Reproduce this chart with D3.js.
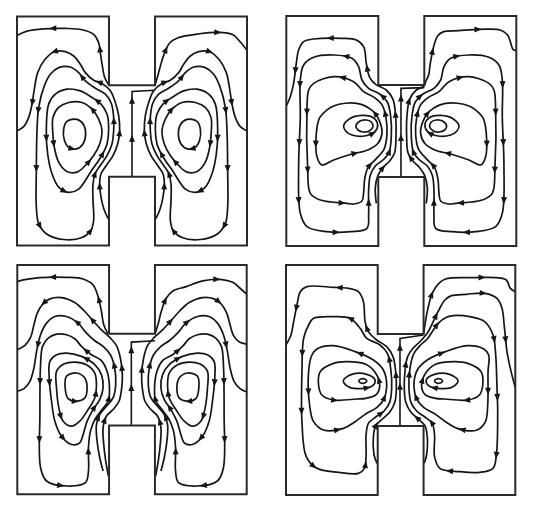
<!DOCTYPE html>
<html><head><meta charset="utf-8">
<script src="https://cdn.jsdelivr.net/npm/d3@7"></script>
<style>html,body{margin:0;padding:0;background:#fff}svg{display:block}</style>
</head><body>
<svg id="c" width="534" height="511"></svg>
<script>
// Grid units: each H-cavity spans 0..690 in x and y
const GRID = [0, 690];
const hOutline = [[0,0],[276,0],[276,207],[414,207],[414,0],[690,0],[690,690],[414,690],[414,483],[276,483],[276,690],[0,690]];

// ---------- Panel 1 (top left) ----------
const p1Divider = [[345,483],[345,226],[414,222]];
const p1LeftLines = [
  [[0,57],[30,44],[80,37],[145,36],[195,40],[230,54],[245,79],[250,109],[256,149],[263,184],[275,206]],
  [[0,345],[20,332],[35,304],[45,264],[52,219],[62,169],[82,132],[112,106],[145,106],[170,119],[190,144],[205,169],[230,192],[255,202],[280,224],[295,259],[305,299],[308,344],[302,384],[288,419],[268,449],[252,474],[248,504],[252,544],[262,584],[274,610]]
];
const p1LeftLoops = [
  [[82,209],[100,174],[125,154],[160,152],[185,169],[205,194],[235,216],[265,234],[283,262],[290,304],[290,344],[285,384],[270,419],[252,446],[235,472],[228,504],[228,554],[230,614],[222,644],[195,666],[140,672],[90,656],[65,624],[58,574],[58,464],[60,344],[65,274]],
  [[95,264],[115,234],[150,219],[190,224],[225,244],[252,264],[270,294],[275,339],[270,384],[262,404],[245,434],[225,462],[205,494],[185,520],[155,530],[125,514],[105,474],[92,414],[88,344]],
  [[108,304],[125,274],[155,259],[195,259],[225,279],[245,309],[255,344],[248,384],[230,419],[205,449],[180,469],[148,466],[125,439],[112,394],[107,344]],
  [[150,316],[180,310],[200,326],[206,354],[198,384],[178,399],[155,394],[142,372],[140,339]]
];
const p1RightLines = [
  [[414,207],[422,180],[430,150],[440,117],[458,80],[483,64],[548,52],[603,48],[648,55],[670,77],[690,102]],
  [[690,345],[670,332],[655,304],[645,264],[638,219],[628,169],[608,132],[578,106],[545,106],[520,119],[500,144],[485,169],[460,192],[435,202],[410,224],[395,259],[385,299],[382,344],[388,384],[402,419],[422,449],[438,474],[442,504],[438,544],[428,584],[416,610]]
];
const p1RightLoops = [
  [[608,209],[590,174],[565,154],[530,152],[505,169],[485,194],[455,216],[425,234],[407,262],[400,304],[400,344],[405,384],[420,419],[438,446],[455,472],[462,504],[462,554],[460,614],[468,644],[495,666],[550,672],[600,656],[625,624],[632,574],[632,464],[630,344],[625,274]],
  [[595,264],[575,234],[540,219],[500,224],[465,244],[438,264],[420,294],[415,339],[420,384],[428,404],[445,434],[465,462],[485,494],[505,520],[535,530],[565,514],[585,474],[598,414],[602,344]],
  [[582,304],[565,274],[535,259],[495,259],[465,279],[445,309],[435,344],[442,384],[460,419],[485,449],[510,469],[542,466],[565,439],[578,394],[583,344]],
  [[540,316],[510,310],[490,326],[484,354],[492,384],[512,399],[535,394],[548,372],[550,339]]
];

// ---------- Panel 2 (top right) ----------
const p2Divider = [[344,484],[344,217],[414,215]];
const p2LeftLines = [
  [[0,270],[12,242],[22,202],[30,142],[37,102],[52,77],[82,69],[167,67],[210,72],[232,92],[240,142],[250,184],[268,205],[300,222],[320,250],[328,300],[329,360],[325,410],[310,435],[290,455],[275,478],[267,515],[270,562]]
];
const p2LeftLoops = [
  [[52,147],[82,124],[142,117],[197,127],[217,152],[227,192],[247,217],[280,234],[303,258],[313,300],[315,360],[308,410],[290,432],[267,450],[252,478],[247,522],[247,592],[242,637],[192,647],[122,647],[62,632],[42,592],[37,452],[42,302],[42,192]],
  [[67,222],[82,202],[142,182],[202,197],[232,227],[265,245],[288,268],[299,305],[302,355],[293,400],[268,430],[245,455],[235,490],[232,530],[227,555],[202,564],[182,562],[102,552],[72,532],[64,452],[62,282]],
  [[102,302],[142,270],[212,262],[258,284],[280,316],[287,352],[275,382],[245,402],[197,414],[142,432],[107,447],[92,422],[90,352],[97,312]],
  [[172,330],[190,308],[227,298],[258,303],[274,325],[266,347],[235,360],[197,357],[178,345]],
  [[209,330],[220,316],[240,312],[255,318],[260,332],[250,344],[232,348],[215,342]]
];
const p2RightLines = [
  [[420,562],[423,515],[415,478],[400,455],[380,435],[365,410],[361,360],[362,300],[370,250],[390,222],[412,211],[419,195],[427,177],[432,142],[442,92],[454,60],[472,47],[517,44],[582,40],[642,42],[664,57],[672,77],[680,100],[690,104]]
];
const p2RightLoops = [
  [[638,147],[608,124],[548,117],[493,127],[473,152],[463,192],[443,217],[410,234],[387,258],[377,300],[375,360],[382,410],[400,432],[423,450],[438,478],[443,522],[443,592],[448,637],[498,647],[568,647],[628,632],[648,592],[653,452],[648,302],[648,192]],
  [[623,222],[608,202],[548,182],[488,197],[458,227],[425,245],[402,268],[391,305],[388,355],[397,400],[422,430],[445,455],[455,490],[458,530],[463,555],[488,564],[508,562],[588,552],[618,532],[626,452],[628,282]],
  [[588,302],[548,270],[478,262],[432,284],[410,316],[403,352],[415,382],[445,402],[493,414],[548,432],[583,447],[598,422],[600,352],[593,312]],
  [[518,330],[500,308],[463,298],[432,303],[416,325],[424,347],[455,360],[493,357],[512,345]],
  [[481,330],[470,316],[450,312],[435,318],[430,332],[440,344],[458,348],[475,342]]
];

// ---------- Panel 3 (bottom left) ----------
const p3Divider = [[343,483],[343,232],[414,228]];
const p3LeftLines = [
  [[0,50],[18,45],[68,38],[148,37],[198,42],[228,60],[243,95],[253,140],[260,180],[273,208]],
  [[0,255],[23,242],[40,218],[50,180],[60,145],[76,118],[98,102],[133,98],[173,113],[203,140],[228,168],[253,195],[278,218],[298,242],[310,280],[316,330],[314,370],[306,410],[288,435],[268,455],[258,490],[260,540],[266,590],[274,635]],
  [[0,380],[20,372],[38,350],[50,310],[58,260],[70,210],[88,175],[113,155],[148,155],[183,175],[208,205],[233,228],[258,245],[280,270],[293,310],[296,360],[288,400],[268,425],[248,450],[238,480],[240,530],[248,580],[258,620]]
];
const p3LeftLoops = [
  [[76,245],[93,220],[118,208],[148,210],[173,222],[193,245],[223,270],[253,288],[270,320],[277,365],[274,408],[255,435],[235,462],[220,500],[214,550],[214,620],[205,655],[150,665],[88,650],[70,610],[68,450],[70,300]],
  [[98,290],[118,270],[148,265],[193,275],[233,300],[253,330],[258,370],[248,405],[228,435],[210,470],[198,510],[188,535],[163,540],[133,515],[113,470],[103,410],[96,340]],
  [[118,320],[140,298],[173,292],[208,300],[233,325],[238,365],[233,400],[213,435],[188,470],[163,485],[138,470],[125,430],[118,370]],
  [[148,335],[178,325],[203,340],[210,370],[203,400],[178,410],[153,402],[144,370]]
];
const p3RightLines = [
  [[414,208],[423,180],[433,140],[448,100],[468,78],[508,65],[558,48],[603,43],[648,52],[670,70],[690,88]],
  [[690,238],[668,232],[650,212],[640,180],[630,145],[614,118],[592,102],[557,98],[517,113],[487,140],[462,168],[437,195],[412,218],[392,242],[380,280],[374,330],[376,370],[384,410],[402,435],[422,455],[432,490],[430,540],[424,590],[416,635]],
  [[690,382],[670,372],[652,350],[640,310],[632,260],[620,210],[602,175],[577,155],[542,155],[507,175],[482,205],[457,228],[432,245],[410,270],[397,310],[394,360],[402,400],[422,425],[442,450],[452,480],[450,530],[442,580],[432,620]]
];
const p3RightLoops = [
  [[614,245],[597,220],[572,208],[542,210],[517,222],[497,245],[467,270],[437,288],[420,320],[413,365],[416,408],[435,435],[455,462],[470,500],[476,550],[476,620],[485,655],[540,665],[602,650],[620,610],[622,450],[620,300]],
  [[592,290],[572,270],[542,265],[497,275],[457,300],[437,330],[432,370],[442,405],[462,435],[480,470],[492,510],[502,535],[527,540],[557,515],[577,470],[587,410],[594,340]],
  [[572,320],[550,298],[517,292],[482,300],[457,325],[452,365],[457,400],[477,435],[502,470],[527,485],[552,470],[565,430],[572,370]],
  [[542,335],[512,325],[487,340],[480,370],[487,400],[512,410],[537,402],[546,370]]
];

// ---------- Panel 4 (bottom right) ----------
const p4Divider = [[343,483],[343,220],[414,210]];
const p4LeftLines = [
  [[0,240],[15,210],[23,170],[33,120],[43,80],[63,65],[143,67],[188,70],[218,80],[233,110],[238,170],[248,200],[273,225],[303,245],[322,275],[330,320],[332,370],[328,410],[313,440],[290,462],[270,482],[263,515],[265,570],[274,595]]
];
const p4LeftLoops = [
  [[68,180],[83,160],[143,155],[193,160],[223,190],[243,220],[283,240],[305,265],[315,310],[318,370],[312,412],[295,438],[270,456],[248,475],[241,510],[241,570],[236,610],[218,625],[158,622],[93,610],[61,575],[48,470],[48,320],[53,220]],
  [[78,270],[93,252],[143,242],[208,260],[263,285],[293,315],[303,365],[293,405],[273,428],[243,445],[208,470],[173,490],[113,495],[83,470],[71,420],[68,320]],
  [[103,320],[143,295],[183,290],[240,298],[270,325],[282,362],[272,388],[240,400],[213,402],[143,405],[108,390],[98,360]],
  [[173,345],[198,328],[243,328],[268,345],[261,362],[233,370],[193,368],[175,355]],
  [[219,348],[225,342],[237,342],[243,348],[237,354],[225,354]]
];
const p4RightLines = [
  [[414,208],[418,180],[425,140],[440,85],[460,55],[480,42],[553,38],[633,38],[663,45],[675,70],[690,80]],
  [[690,368],[675,310],[665,260],[657,185],[650,130],[635,100],[598,85],[543,88],[498,92],[478,105],[460,135],[443,170],[428,200],[405,228],[382,250],[366,275],[358,320],[356,370],[360,410],[375,440],[398,462],[418,482],[425,515],[423,570],[416,595]]
];
const p4RightLoops = [
  [[503,152],[553,155],[598,170],[623,210],[631,270],[635,370],[637,440],[633,570],[623,610],[583,622],[523,620],[463,610],[447,575],[447,510],[440,475],[418,456],[393,438],[376,412],[370,370],[373,310],[385,265],[405,240],[425,222],[440,200],[458,175],[480,158]],
  [[610,270],[595,252],[545,242],[480,260],[425,285],[395,315],[385,365],[395,405],[415,428],[445,445],[480,470],[515,490],[575,495],[600,470],[607,420],[608,320]],
  [[587,320],[547,295],[507,290],[450,298],[420,325],[408,362],[418,388],[450,400],[477,402],[547,405],[582,390],[592,360]],
  [[517,345],[492,328],[447,328],[422,345],[429,362],[457,370],[497,368],[515,355]],
  [[447,348],[453,342],[465,342],[471,348],[465,354],[453,354]]
];

// ---------- layout ----------
const panels = [
  {box:[17,16.5,247,245.5], divider:p1Divider, L:{lines:p1LeftLines, loops:p1LeftLoops}, R:{lines:p1RightLines, loops:p1RightLoops}},
  {box:[286.3,16,516.3,246], divider:p2Divider, L:{lines:p2LeftLines, loops:p2LeftLoops}, R:{lines:p2RightLines, loops:p2RightLoops}},
  {box:[17.3,265,246.7,494.3], divider:p3Divider, L:{lines:p3LeftLines, loops:p3LeftLoops}, R:{lines:p3RightLines, loops:p3RightLoops}},
  {box:[286,265,515.3,495], divider:p4Divider, L:{lines:p4LeftLines, loops:p4LeftLoops}, R:{lines:p4RightLines, loops:p4RightLoops}}
];

const INK = '#161616';
const svg = d3.select('#c');
svg.append('rect').attr('width',534).attr('height',511).attr('fill','#fff');

function addArrows(g, node, center, side, spacing, minLen) {
  const len = node.getTotalLength();
  if (len < minLen) return;
  const n = Math.max(1, Math.floor(len / spacing));
  const start = (len - (n - 1) * spacing) / 2;
  for (let i = 0; i < n; i++) {
    const l = start + i * spacing;
    const p = node.getPointAtLength(l);
    const a = node.getPointAtLength(Math.max(0, l - 1.5));
    const b = node.getPointAtLength(Math.min(len, l + 1.5));
    let tx = b.x - a.x, ty = b.y - a.y;
    if (center) {
      const rx = p.x - center[0], ry = p.y - center[1];
      const dx = side === 'L' ? ry : -ry, dy = side === 'L' ? -rx : rx;
      if (tx * dx + ty * dy < 0) { tx = -tx; ty = -ty; }
    }
    const ang = Math.atan2(ty, tx) * 180 / Math.PI;
    g.append('path').attr('d', 'M4,0L-3.2,-3L-3.2,3Z')
      .attr('transform', `translate(${p.x.toFixed(2)},${p.y.toFixed(2)}) rotate(${ang.toFixed(1)})`)
      .attr('fill', INK);
  }
}

panels.forEach(p => {
  const x = d3.scaleLinear().domain(GRID).range([p.box[0], p.box[2]]);
  const y = d3.scaleLinear().domain(GRID).range([p.box[1], p.box[3]]);
  const g = svg.append('g');
  const open = d3.line().x(d => x(d[0])).y(d => y(d[1])).curve(d3.curveCatmullRom.alpha(0.5));
  const closed = d3.line().x(d => x(d[0])).y(d => y(d[1])).curve(d3.curveCatmullRomClosed.alpha(0.5));
  const straight = d3.line().x(d => x(d[0])).y(d => y(d[1]));

  ['L', 'R'].forEach(side => {
    const s = p[side];
    const inner = s.loops[s.loops.length - 1];
    const center = [x(d3.mean(inner, d => d[0])), y(d3.mean(inner, d => d[1]))];
    s.lines.forEach(pts => {
      const path = g.append('path').attr('d', open(pts)).attr('fill', 'none')
        .attr('stroke', INK).attr('stroke-width', 1.7).attr('stroke-linejoin', 'round');
      addArrows(g, path.node(), center, side, 58, 30);
    });
    s.loops.forEach(pts => {
      const path = g.append('path').attr('d', closed(pts)).attr('fill', 'none')
        .attr('stroke', INK).attr('stroke-width', 1.7);
      addArrows(g, path.node(), center, side, 58, 60);
    });
  });

  // divider streamline along the centre
  const dv = g.append('path').attr('d', straight(p.divider)).attr('fill', 'none')
    .attr('stroke', INK).attr('stroke-width', 1.6);
  const dn = dv.node();
  const dl = dn.getTotalLength();
  [0.45, 0.9].forEach(f => {
    const pt = dn.getPointAtLength(dl * f * 0.78);
    g.append('path').attr('d', 'M0,-4L-3,3L3,3Z').attr('transform', `translate(${pt.x},${pt.y})`).attr('fill', INK);
  });

  // H-shaped cavity outline
  g.append('path').attr('d', straight(hOutline) + 'Z').attr('fill', 'none')
    .attr('stroke', '#2a2a2a').attr('stroke-width', 2).attr('stroke-linejoin', 'miter');
});
</script>
</body></html>
